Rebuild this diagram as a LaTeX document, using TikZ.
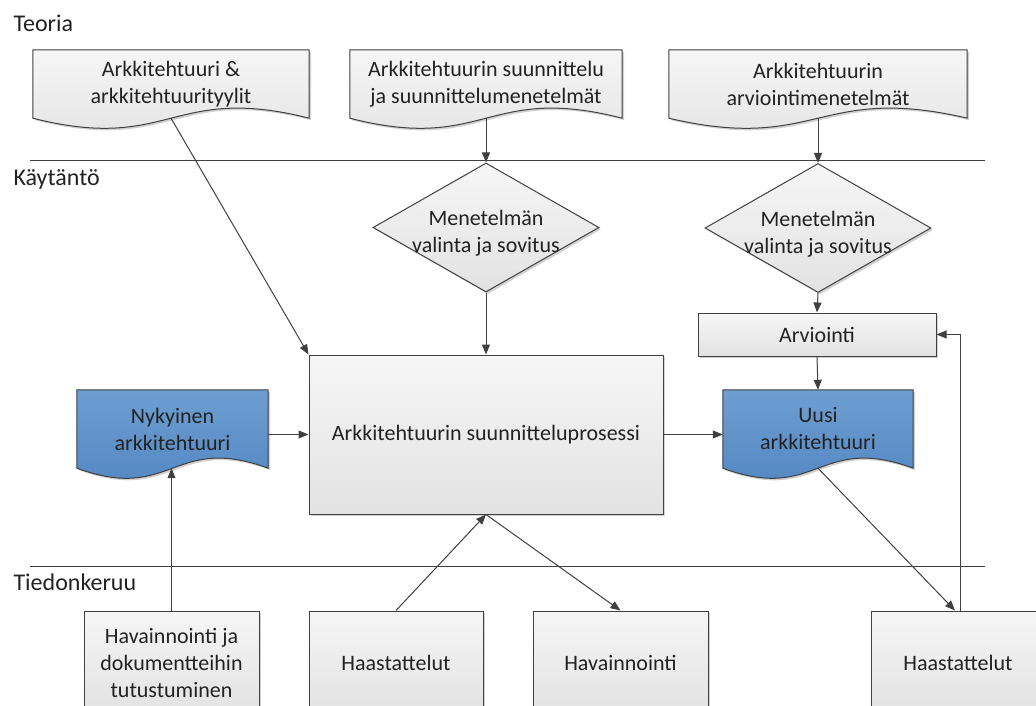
\documentclass[tikz,border=0pt]{standalone}
\usepackage{fontspec}
\setmainfont{Carlito}
\usetikzlibrary{arrows.meta,shapes.geometric,backgrounds,shadows,calc}

\definecolor{ln}{HTML}{404040}
\definecolor{tx}{HTML}{222222}
\definecolor{gtop}{HTML}{F6F6F6}
\definecolor{gbot}{HTML}{E2E2E2}
\definecolor{btop}{HTML}{6E9ED2}
\definecolor{bbot}{HTML}{4F84BF}

\begin{document}
\begin{tikzpicture}[x=1pt,y=-1pt,
  every node/.style={font=\fontsize{22}{27}\selectfont, text=tx},
  shapeline/.style={draw=ln, line width=1pt},
  greyfill/.style={top color=gtop, bottom color=gbot},
  bluefill/.style={top color=btop, bottom color=bbot},
  shade/.style={drop shadow={shadow xshift=2pt,shadow yshift=-2pt,opacity=0.18,fill=black}},
  docframe/.style={rectangle, inner sep=0pt, align=center},
  box/.style={rectangle, shapeline, greyfill, shade, inner sep=0pt, align=center},
  decision/.style={diamond, shapeline, greyfill, shade, inner sep=0pt,
    minimum width=226pt, minimum height=129pt},
  arr/.style={draw=ln, line width=1pt, -{Triangle[length=10pt,width=8pt]}},
  sep/.style={draw=ln, line width=1pt},
  lane/.style={font=\fontsize{24}{29}\selectfont, anchor=base west}]

\useasboundingbox (0,0) rectangle (1036,706);
\clip (0,0) rectangle (1036,706);

% swimlane separators and titles
\coordinate (s1a) at (30,161);
\coordinate (s1b) at (985,161);
\coordinate (s2a) at (30,566);
\coordinate (s2b) at (985,566);
\draw[sep] (s1a) -- (s1b);
\draw[sep] (s2a) -- (s2b);
\node[lane] (teoria) at (10,32) {Teoria};
\node[lane] (kaytanto) at (10,185) {Käytäntö};
\node[lane] (tiedon) at (10,590) {Tiedonkeruu};

% document frames (outline drawn on the background layer)
\node[docframe, minimum width=276pt, minimum height=68pt] (d1) at (171,84)
  {Arkkitehtuuri \&\\arkkitehtuurityylit};
\node[docframe, minimum width=272pt, minimum height=68pt] (d2) at (486,84)
  {Arkkitehtuurin suunnittelu\\ja suunnittelumenetelmät};
\node[docframe, minimum width=298pt, minimum height=68pt] (d3) at (818,84)
  {Arkkitehtuurin\\arviointimenetelmät};
\node[docframe, minimum width=191pt, minimum height=78pt] (nyk) at (172.5,429)
  {Nykyinen\\arkkitehtuuri};
\node[docframe, minimum width=190pt, minimum height=78pt] (uusi) at (818,429)
  {Uusi\\arkkitehtuuri};

\begin{scope}[on background layer]
  \foreach \n/\s in {d1/greyfill,d2/greyfill,d3/greyfill,nyk/bluefill,uusi/bluefill}
    \path[shapeline,\s,shade] (\n.north west) -- (\n.north east) -- (\n.south east)
      .. controls ($(\n.south)+(0,-35)$) and ($(\n.south)+(0,35)$) .. (\n.south west) -- cycle;
\end{scope}

% decisions
\node[decision, label={[align=center,yshift=-6pt]center:Menetelmän\\valinta ja sovitus}]
  (m1) at (486,227.5) {};
\node[decision, label={[align=center,yshift=-6pt]center:Menetelmän\\valinta ja sovitus}]
  (m2) at (818,228) {};

% process boxes
\node[box, minimum width=238pt, minimum height=43pt] (arv) at (817,334.5) {Arviointi};
\node[box, minimum width=354pt, minimum height=159pt] (proc) at (486,434.5)
  {Arkkitehtuurin suunnitteluprosessi};

% data collection boxes (run past the lower edge)
\node[box, minimum width=175pt, minimum height=104pt] (b1) at (171.5,663)
  {Havainnointi ja\\dokumentteihin\\tutustuminen};
\node[box, minimum width=174pt, minimum height=104pt] (b2) at (396,663) {Haastattelut};
\node[box, minimum width=175pt, minimum height=104pt] (b3) at (620.5,663) {Havainnointi};
\node[box, minimum width=174pt, minimum height=104pt] (b4) at (958,663) {Haastattelut};

% connectors
\draw[arr] (d1.south) -- (proc.north west);
\draw[arr] (d2.south) -- (m1.north);
\draw[arr] (d3.south) -- (m2.north);
\draw[arr] (m1.south) -- (proc.north);
\draw[arr] (m2.south) -- (arv.north);
\draw[arr] (arv.south) -- (uusi.north);
\draw[arr] (nyk.east |- proc.west) -- (proc.west);
\draw[arr] (proc.east) -- (proc.east -| uusi.west);
\draw[arr] (b1.north) -- (b1.north |- nyk.south);
\draw[arr] (b2.north) -- (proc.south);
\draw[arr] (proc.south) -- (b3.north);
\draw[arr] (uusi.south) -- ([xshift=-3pt]b4.north);
\draw[arr] ([xshift=2pt]b4.north) |- (arv.east);
\end{tikzpicture}
\end{document}
